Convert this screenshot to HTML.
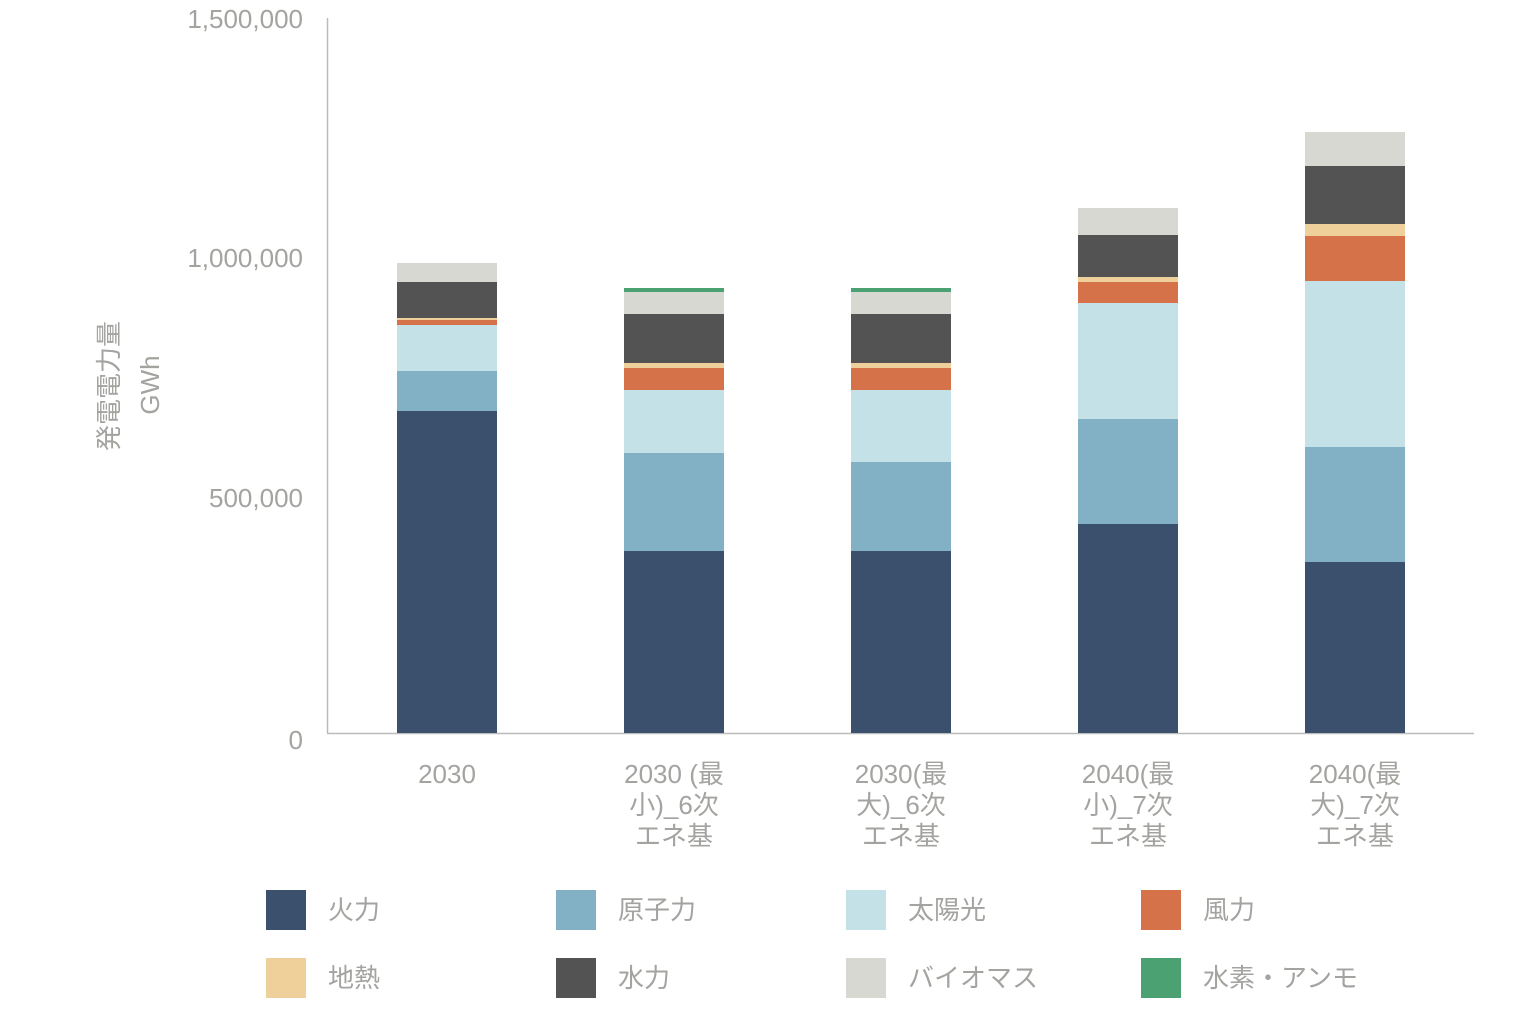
<!DOCTYPE html><html><head><meta charset="utf-8"><style>body{margin:0;background:#fff}svg{display:block}text{font-family:"Liberation Sans","Noto Sans CJK JP",sans-serif;fill:#a3a3a0;font-size:26px}</style></head><body>
<svg width="1530" height="1026" xmlns="http://www.w3.org/2000/svg">
<line x1="327.5" y1="18" x2="327.5" y2="733" stroke="#bbb" stroke-width="1.5"/>
<line x1="327" y1="733.5" x2="1474" y2="733.5" stroke="#bbb" stroke-width="1.5"/>
<g text-anchor="end"><text x="303" y="28">1,500,000</text><text x="303" y="267">1,000,000</text><text x="303" y="507">500,000</text><text x="303" y="749">0</text></g>
<text transform="translate(118,386) rotate(-90)" text-anchor="middle">発電電力量</text>
<text transform="translate(159,385) rotate(-90)" text-anchor="middle" font-size="24">GWh</text>
<g id="bars">
<!-- bar1 -->
<rect x="397" y="263" width="100" height="19" fill="#d8d8d3"/>
<rect x="397" y="282" width="100" height="36" fill="#535353"/>
<rect x="397" y="318" width="100" height="2" fill="#f0d09a"/>
<rect x="397" y="320" width="100" height="5" fill="#d6724a"/>
<rect x="397" y="325" width="100" height="46" fill="#c5e1e8"/>
<rect x="397" y="371" width="100" height="40" fill="#82b0c4"/>
<rect x="397" y="411" width="100" height="322" fill="#3a506c"/>
<!-- bar2 -->
<rect x="624" y="288" width="100" height="4" fill="#4ba171"/>
<rect x="624" y="292" width="100" height="22" fill="#d8d8d3"/>
<rect x="624" y="314" width="100" height="49" fill="#535353"/>
<rect x="624" y="363" width="100" height="5" fill="#f0d09a"/>
<rect x="624" y="368" width="100" height="22" fill="#d6724a"/>
<rect x="624" y="390" width="100" height="63" fill="#c5e1e8"/>
<rect x="624" y="453" width="100" height="98" fill="#82b0c4"/>
<rect x="624" y="551" width="100" height="182" fill="#3a506c"/>
<!-- bar3 -->
<rect x="851" y="288" width="100" height="4" fill="#4ba171"/>
<rect x="851" y="292" width="100" height="22" fill="#d8d8d3"/>
<rect x="851" y="314" width="100" height="49" fill="#535353"/>
<rect x="851" y="363" width="100" height="5" fill="#f0d09a"/>
<rect x="851" y="368" width="100" height="22" fill="#d6724a"/>
<rect x="851" y="390" width="100" height="72" fill="#c5e1e8"/>
<rect x="851" y="462" width="100" height="89" fill="#82b0c4"/>
<rect x="851" y="551" width="100" height="182" fill="#3a506c"/>
<!-- bar4 -->
<rect x="1078" y="208" width="100" height="27" fill="#d8d8d3"/>
<rect x="1078" y="235" width="100" height="42" fill="#535353"/>
<rect x="1078" y="277" width="100" height="5" fill="#f0d09a"/>
<rect x="1078" y="282" width="100" height="21" fill="#d6724a"/>
<rect x="1078" y="303" width="100" height="116" fill="#c5e1e8"/>
<rect x="1078" y="419" width="100" height="105" fill="#82b0c4"/>
<rect x="1078" y="524" width="100" height="209" fill="#3a506c"/>
<!-- bar5 -->
<rect x="1305" y="132" width="100" height="34" fill="#d8d8d3"/>
<rect x="1305" y="166" width="100" height="58" fill="#535353"/>
<rect x="1305" y="224" width="100" height="12" fill="#f0d09a"/>
<rect x="1305" y="236" width="100" height="45" fill="#d6724a"/>
<rect x="1305" y="281" width="100" height="166" fill="#c5e1e8"/>
<rect x="1305" y="447" width="100" height="115" fill="#82b0c4"/>
<rect x="1305" y="562" width="100" height="171" fill="#3a506c"/>
</g>
<g text-anchor="middle">
<text x="447" y="783">2030</text>
<text x="674" y="783">2030 (最</text><text x="674" y="814">小)_6次</text><text x="674" y="845">エネ基</text>
<text x="901" y="783">2030(最</text><text x="901" y="814">大)_6次</text><text x="901" y="845">エネ基</text>
<text x="1128" y="783">2040(最</text><text x="1128" y="814">小)_7次</text><text x="1128" y="845">エネ基</text>
<text x="1355" y="783">2040(最</text><text x="1355" y="814">大)_7次</text><text x="1355" y="845">エネ基</text>
</g>
<rect x="266" y="890" width="40" height="40" fill="#3a506c"/><text x="328" y="919">火力</text>
<rect x="556" y="890" width="40" height="40" fill="#82b0c4"/><text x="618" y="919">原子力</text>
<rect x="846" y="890" width="40" height="40" fill="#c5e1e8"/><text x="908" y="919">太陽光</text>
<rect x="1141" y="890" width="40" height="40" fill="#d6724a"/><text x="1203" y="919">風力</text>
<rect x="266" y="958" width="40" height="40" fill="#f0d09a"/><text x="328" y="987">地熱</text>
<rect x="556" y="958" width="40" height="40" fill="#535353"/><text x="618" y="987">水力</text>
<rect x="846" y="958" width="40" height="40" fill="#d8d8d3"/><text x="908" y="987">バイオマス</text>
<rect x="1141" y="958" width="40" height="40" fill="#4ba171"/><text x="1203" y="987">水素・アンモ</text>
</svg></body></html>
